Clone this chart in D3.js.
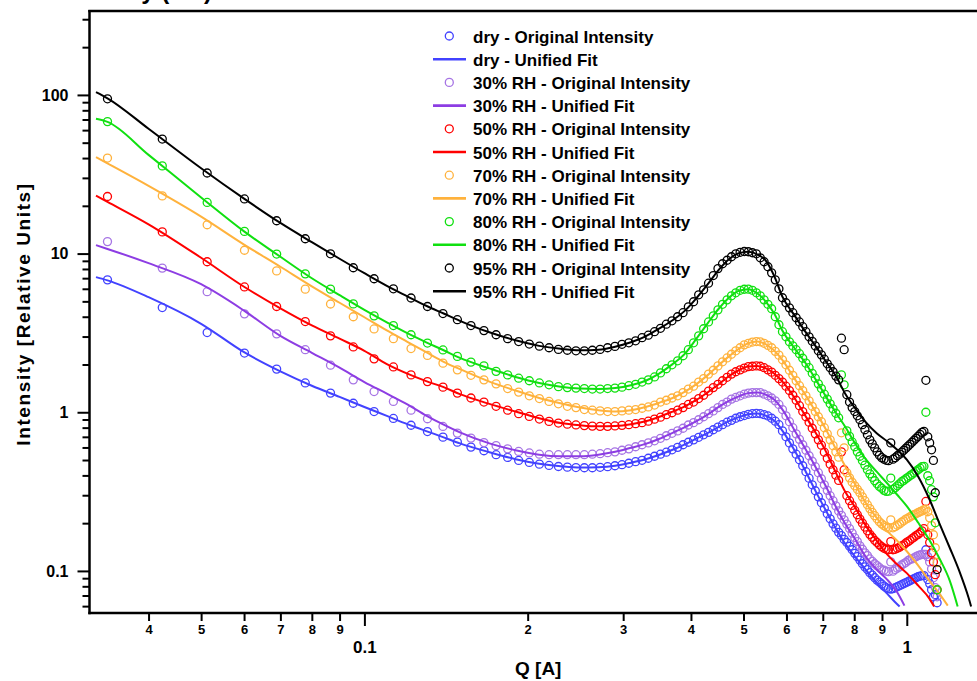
<!DOCTYPE html>
<html><head><meta charset="utf-8">
<script src="https://cdn.jsdelivr.net/npm/d3@7"></script>
<style>
html,body{margin:0;padding:0;background:#fff;}
svg{display:block;font-family:Arial,"Liberation Sans",sans-serif;}
</style></head><body>
<svg id="chart" width="977" height="681"></svg>
<script>
// ---------- DATA ----------
const qData = [0.0336,0.0424,0.0513,0.0601,0.0689,0.0778,0.0866,0.0954,0.1042,0.1131,
0.1219,0.1307,0.1396,0.1484,0.1572,0.1661,0.1749,0.1837,0.1925,0.2014,
0.2102,0.2190,0.2279,0.2367,0.2455,0.2544,0.2632,0.2720,0.2808,0.2897,
0.2985,0.3073,0.3162,0.3250,0.3338,0.3427,0.3515,0.3603,0.3691,0.3780,
0.3868,0.3956,0.4045,0.4133,0.4221,0.4310,0.4398,0.4486,0.4574,0.4663,
0.4751,0.4839,0.4928,0.5016,0.5104,0.5193,0.5281,0.5369,0.5457,0.5546,
0.5634,0.5722,0.5811,0.5899,0.5987,0.6076,0.6164,0.6252,0.6340,0.6429,
0.6517,0.6605,0.6694,0.6782,0.6870,0.6959,0.7047,0.7135,0.7223,0.7312,
0.7400,0.7488,0.7577,0.7665,0.7753,0.7842,0.7930,0.8018,0.8106,0.8195,
0.8283,0.8371,0.8460,0.8548,0.8636,0.8725,0.8813,0.8901,0.8989,0.9078,
0.9166,0.9254,0.9343,0.9431,0.9519,0.9608,0.9696,0.9784,0.9872,0.9961,
1.0049,1.0137,1.0226,1.0314,1.0402,1.0491,1.0579,1.0667,1.0755,1.0844,
1.0932,1.1020,1.1109,1.1197,1.1285,1.1374];

const dryData = [6.83,4.57,3.18,2.36,1.87,1.53,1.32,1.14,1.01,0.914,
0.828,0.756,0.697,0.648,0.603,0.572,0.540,0.519,0.497,0.483,
0.471,0.462,0.455,0.451,0.448,0.447,0.447,0.450,0.454,0.460,
0.467,0.477,0.488,0.498,0.513,0.528,0.544,0.560,0.580,0.601,
0.624,0.647,0.670,0.695,0.721,0.747,0.776,0.806,0.835,0.866,
0.889,0.917,0.937,0.953,0.971,0.979,0.983,0.979,0.965,0.948,
0.917,0.878,0.835,0.763,0.700,0.641,0.588,0.544,0.502,0.460,
0.422,0.384,0.349,0.320,0.293,0.269,0.248,0.229,0.213,0.198,
0.186,0.175,0.167,0.158,0.151,0.143,0.136,0.129,0.123,0.117,
0.111,0.106,0.102,0.0975,0.0941,0.0906,0.0875,0.0851,0.0827,0.0802,
0.0784,0.0773,0.0768,0.0773,0.0784,0.0795,0.0807,0.0819,0.0832,0.0844,
0.0855,0.0869,0.0882,0.0894,0.0906,0.0920,0.0927,0.0934,0.0934,0.136,
0.0882,0.0832,0.0761,0.0687,0.0708,0.0630];

const rh30Data = [11.9,8.10,5.75,4.17,3.12,2.48,1.98,1.60,1.35,1.17,
1.03,0.910,0.814,0.739,0.687,0.644,0.616,0.588,0.566,0.554,
0.544,0.540,0.540,0.540,0.540,0.540,0.544,0.548,0.556,0.563,
0.576,0.588,0.606,0.624,0.641,0.661,0.685,0.711,0.737,0.763,
0.793,0.831,0.860,0.897,0.937,0.979,1.02,1.07,1.12,1.16,
1.21,1.24,1.27,1.30,1.32,1.33,1.33,1.33,1.30,1.27,
1.23,1.18,1.12,1.04,0.950,0.872,0.799,0.731,0.675,0.624,
0.576,0.532,0.491,0.454,0.416,0.381,0.349,0.322,0.298,0.277,
0.257,0.239,0.224,0.210,0.197,0.185,0.173,0.162,0.153,0.144,
0.137,0.130,0.125,0.119,0.115,0.111,0.108,0.105,0.102,0.101,
0.0996,0.0989,0.114,0.0996,0.102,0.104,0.106,0.109,0.111,0.113,
0.116,0.118,0.119,0.121,0.123,0.125,0.126,0.127,0.127,0.127,
0.123,0.114,0.103,0.0906,0.0784,0.0687];

const rh50Data = [22.9,13.7,8.88,6.16,4.64,3.73,3.03,2.58,2.17,1.93,
1.72,1.56,1.44,1.32,1.23,1.16,1.09,1.03,0.979,0.941,
0.906,0.876,0.855,0.841,0.832,0.824,0.818,0.815,0.815,0.820,
0.827,0.835,0.847,0.860,0.878,0.905,0.931,0.965,0.993,1.03,
1.07,1.12,1.16,1.22,1.28,1.36,1.43,1.50,1.58,1.66,
1.74,1.80,1.85,1.90,1.94,1.95,1.96,1.95,1.91,1.85,
1.79,1.71,1.63,1.55,1.46,1.37,1.28,1.19,1.10,1.01,
0.937,0.866,0.793,0.731,0.670,0.620,0.560,0.513,0.471,0.434,
0.401,0.372,0.563,0.434,0.298,0.277,0.259,0.241,0.226,0.212,
0.200,0.189,0.179,0.170,0.163,0.156,0.151,0.146,0.142,0.139,
0.137,0.136,0.153,0.136,0.137,0.139,0.141,0.144,0.146,0.150,
0.153,0.156,0.160,0.163,0.167,0.170,0.174,0.179,0.185,0.274,
0.169,0.151,0.130,0.114,0.0947,0.0761];

const rh70Data = [40.0,23.1,15.2,10.5,7.78,5.97,4.81,4.00,3.35,2.91,
2.52,2.28,2.04,1.85,1.71,1.60,1.51,1.41,1.34,1.27,
1.22,1.17,1.13,1.09,1.07,1.04,1.03,1.02,1.01,1.01,
1.02,1.03,1.04,1.06,1.08,1.11,1.16,1.19,1.23,1.27,
1.33,1.40,1.46,1.55,1.63,1.74,1.84,1.96,2.08,2.20,
2.32,2.44,2.55,2.66,2.72,2.77,2.79,2.78,2.72,2.64,
2.55,2.42,2.29,2.14,1.99,1.84,1.71,1.58,1.47,1.37,
1.27,1.18,1.09,1.01,0.937,0.872,0.799,0.731,0.670,0.616,
0.563,0.521,0.742,0.597,0.416,0.386,0.362,0.344,0.327,0.311,
0.293,0.277,0.261,0.247,0.234,0.223,0.213,0.204,0.198,0.193,
0.189,0.186,0.210,0.187,0.190,0.194,0.198,0.203,0.207,0.212,
0.215,0.219,0.223,0.226,0.229,0.233,0.236,0.239,0.243,0.245,
0.236,0.216,0.193,0.169,0.140,0.113];

const rh80Data = [67.9,35.7,21.0,13.8,9.93,7.45,5.97,4.82,4.05,3.52,
3.08,2.73,2.47,2.25,2.07,1.96,1.81,1.72,1.64,1.58,
1.53,1.49,1.45,1.43,1.42,1.41,1.40,1.40,1.41,1.42,
1.44,1.47,1.50,1.55,1.60,1.67,1.77,1.88,1.99,2.11,
2.27,2.48,2.74,3.03,3.36,3.71,4.05,4.42,4.79,5.11,
5.42,5.66,5.87,5.96,5.97,5.87,5.66,5.42,5.11,4.79,
4.49,4.00,3.56,3.22,2.99,2.78,2.62,2.48,2.34,2.19,
2.04,1.91,1.76,1.64,1.51,1.41,1.30,1.21,1.13,1.05,
0.986,0.923,1.72,1.49,0.763,0.705,0.650,0.606,0.563,0.528,
0.495,0.464,0.434,0.409,0.389,0.370,0.354,0.341,0.332,0.322,
0.317,0.318,0.385,0.327,0.334,0.344,0.354,0.365,0.372,0.381,
0.389,0.398,0.406,0.416,0.425,0.434,0.444,0.454,0.456,1.00,
0.398,0.370,0.325,0.293,0.201,0.0761];

const rh95Data = [94.5,52.7,32.2,22.1,16.1,12.4,9.97,8.14,6.94,6.00,
5.25,4.64,4.19,3.83,3.52,3.27,3.08,2.91,2.79,2.69,
2.61,2.55,2.49,2.46,2.44,2.44,2.46,2.49,2.55,2.60,
2.68,2.74,2.82,2.95,3.06,3.22,3.38,3.59,3.77,4.00,
4.24,4.62,4.97,5.50,5.91,6.51,7.27,8.04,8.63,9.08,
9.55,9.97,10.19,10.31,10.27,10.12,9.97,9.41,8.88,8.26,
7.56,6.83,6.00,5.27,4.90,4.55,4.24,3.94,3.71,3.46,
3.22,2.99,2.80,2.62,2.44,2.30,2.16,2.02,1.91,1.80,
1.69,1.60,2.93,2.48,1.29,1.16,1.07,1.01,0.95,0.897,
0.835,0.776,0.721,0.670,0.632,0.597,0.563,0.536,0.517,0.506,
0.498,0.495,0.641,0.506,0.517,0.532,0.544,0.560,0.576,0.593,
0.611,0.628,0.647,0.666,0.685,0.705,0.726,0.747,0.758,1.59,
0.700,0.641,0.580,0.497,0.311,0.102];

// Unified fit curves
const fitQ = [0.032,0.0336,0.04,0.05,0.06,0.07,0.08,0.09,0.10,0.11,
0.12,0.13,0.14,0.15,0.17,0.19,0.21,0.23,0.25,0.27,
0.29,0.31,0.33,0.35,0.37,0.39,0.41,0.43,0.45,0.47,
0.49,0.51,0.53,0.55,0.57,0.59,0.62,0.65,0.68,0.71,
0.74,0.77,0.80,0.84,0.88,0.92];
const dryFitTailQ = [0.95,0.97];
const rh30FitTailQ = [0.96,0.99];
const rh50FitTailQ = [0.96,1.0,1.05,1.1,1.123];
const rh70FitTailQ = [0.96,1.0,1.05,1.1,1.15,1.19];
const rh80FitTailQ = [0.96,1.0,1.05,1.1,1.15,1.2,1.241];
const rh95FitTailQ = [0.96,1.0,1.05,1.1,1.15,1.2,1.25,1.3,1.314];

const dryFit = [7.11,6.78,5.31,3.61,2.39,1.81,1.47,1.25,1.08,0.948,
0.841,0.761,0.695,0.637,0.560,0.506,0.474,0.457,0.448,0.450,
0.460,0.481,0.506,0.540,0.580,0.628,0.685,0.742,0.810,0.878,
0.931,0.971,0.983,0.951,0.883,0.763,0.580,0.428,0.315,0.239,
0.185,0.148,0.125,0.102,0.0844,0.0719, 0.0640,0.0597];
const rh30Fit = [11.3,10.7,8.70,6.41,4.37,3.03,2.37,1.91,1.55,1.31,
1.12,0.953,0.835,0.747,0.637,0.576,0.540,0.528,0.528,0.540,
0.563,0.597,0.632,0.681,0.742,0.806,0.883,0.971,1.08,1.18,
1.26,1.32,1.33,1.29,1.20,1.04,0.776,0.588,0.447,0.339,
0.254,0.198,0.162,0.123,0.102,0.0882, 0.0733,0.0604];
const rh50Fit = [23.2,21.2,15.3,9.41,6.18,4.52,3.53,2.91,2.44,2.01,
1.75,1.57,1.44,1.30,1.13,1.01,0.917,0.855,0.828,0.815,
0.820,0.841,0.878,0.937,1.01,1.09,1.20,1.34,1.50,1.69,
1.84,1.94,1.96,1.89,1.75,1.56,1.24,0.951,0.737,0.563,
0.416,0.315,0.257,0.193,0.155,0.127, 0.110,0.0968,0.0807,0.0671,0.0597];
const rh70Fit = [40.5,37.0,26.7,17.1,11.4,8.26,6.22,4.90,3.97,3.28,
2.78,2.39,2.08,1.87,1.56,1.37,1.23,1.14,1.07,1.03,
1.01,1.03,1.08,1.15,1.23,1.35,1.51,1.72,1.98,2.25,
2.51,2.72,2.79,2.68,2.44,2.13,1.64,1.29,1.00,0.776,
0.588,0.457,0.359,0.269,0.216,0.179, 0.155,0.133,0.108,0.0869,0.0714,0.0604];
const rh80Fit = [70.7,67.6,41.9,22.6,13.8,9.55,6.99,5.47,4.42,3.69,
3.15,2.76,2.46,2.20,1.89,1.67,1.53,1.45,1.41,1.40,
1.42,1.48,1.58,1.76,2.01,2.34,2.93,3.66,4.49,5.27,
5.83,5.97,5.62,4.97,4.17,3.26,2.55,2.05,1.60,1.25,
0.993,0.810,0.650,0.506,0.422,0.357, 0.302,0.256,0.201,0.157,0.119,0.0869,0.0597];
const rh95Fit = [104.1,95.2,61.2,34.5,22.2,15.6,11.8,9.28,7.52,6.26,
5.38,4.69,4.19,3.77,3.19,2.84,2.62,2.51,2.46,2.48,
2.59,2.76,3.01,3.38,3.80,4.37,5.27,6.44,7.90,9.22,
10.04,10.26,9.90,9.00,7.19,5.34,4.11,3.22,2.59,2.08,
1.69,1.31,1.08,0.866,0.737,0.656, 0.580,0.502,0.392,0.285,0.197,0.140,0.0996,0.0677,0.0597];

const seriesNames = ["dry","30% RH","50% RH","70% RH","80% RH","95% RH"];
const markerColors = ["#4242ff","#a674e4","#ff0000","#ffb23c","#10e010","#000000"];
const lineColors   = ["#4242ff","#8d3de3","#ff0000","#ffb23c","#10e010","#000000"];

const yMajorTicks = [0.1,1,10,100];
const yMinorTicks = [0.06,0.07,0.08,0.09,0.2,0.3,0.4,0.5,0.6,0.7,0.8,0.9,2,3,4,5,6,7,8,9,20,30,40,50,60,70,80,90,200,300];
const xMajorTicks = [0.1,1];
const xMinorTicks = [0.04,0.05,0.06,0.07,0.08,0.09,0.2,0.3,0.4,0.5,0.6,0.7,0.8,0.9];

// ---------- CHART ----------
const dataSets = [dryData,rh30Data,rh50Data,rh70Data,rh80Data,rh95Data];
const fitSets = [dryFit,rh30Fit,rh50Fit,rh70Fit,rh80Fit,rh95Fit];
const fitTails = [dryFitTailQ,rh30FitTailQ,rh50FitTailQ,rh70FitTailQ,rh80FitTailQ,rh95FitTailQ];

const svg = d3.select("#chart");
svg.append("rect").attr("width",977).attr("height",681).attr("fill","#fff");

const L = 89.5, R = 1002.3, T = 11, B = 613;
const x = d3.scaleLog().domain([0.03113,1.5]).range([L,R]);
const y = d3.scaleLog().domain([0.0543,338]).range([B,T]);

// partially visible title (cut by the top edge, as in the reference)
svg.append("text").attr("x",212).attr("y",-1).attr("text-anchor","end")
  .attr("font-size",24).attr("font-weight","bold").text("Intensity (cm)");

const plot = svg.append("g");
const line = d3.line().x(d=>x(d[0])).y(d=>y(d[1])).curve(d3.curveMonotoneX);

dataSets.forEach((ds,s)=>{
  const g = plot.append("g");
  g.selectAll("circle").data(qData.map((q,i)=>[q,ds[i]])).enter().append("circle")
    .attr("cx",d=>x(d[0])).attr("cy",d=>y(d[1])).attr("r",4)
    .attr("fill","none").attr("stroke",markerColors[s]).attr("stroke-width",1.3);
  const fq = fitQ.concat(fitTails[s]);
  g.append("path").datum(fq.map((q,i)=>[q,fitSets[s][i]]))
    .attr("d",line).attr("fill","none").attr("stroke",lineColors[s]).attr("stroke-width",2);
});

// axes
const yMaj = svg.append("g").attr("transform",`translate(${L},0)`)
  .call(d3.axisLeft(y).tickValues(yMajorTicks).tickSize(12).tickPadding(9)
    .tickFormat(d=>d>=1?d3.format("d")(d):String(d)));
const yMin = svg.append("g").attr("transform",`translate(${L},0)`)
  .call(d3.axisLeft(y).tickValues(yMinorTicks).tickSize(7).tickFormat(""));
const xMaj = svg.append("g").attr("transform",`translate(0,${B})`)
  .call(d3.axisBottom(x).tickValues(xMajorTicks).tickSize(13).tickFormat(d=>d>=1?"1":"0.1"));
const xMin = svg.append("g").attr("transform",`translate(0,${B})`)
  .call(d3.axisBottom(x).tickValues(xMinorTicks).tickSize(8)
    .tickFormat(d=>String(Math.round(d/Math.pow(10,Math.floor(Math.log10(d)+1e-9))))));
[yMaj,yMin,xMaj,xMin].forEach(g=>{
  g.select(".domain").remove();
  g.selectAll(".tick line").attr("stroke","#000").attr("stroke-width",2);
  g.selectAll("text").attr("fill","#000").attr("font-family","Arial, 'Liberation Sans', sans-serif").attr("font-weight","bold");
});
yMaj.selectAll("text").attr("font-size",16);
xMaj.selectAll("text").attr("font-size",17).attr("y",40).attr("dy",0);
xMin.selectAll("text").attr("font-size",13).attr("y",21).attr("dy",0);

// frame lines
svg.append("line").attr("x1",L).attr("x2",L).attr("y1",T-1).attr("y2",B+1.2).attr("stroke","#000").attr("stroke-width",2.5);
svg.append("line").attr("x1",L-1.2).attr("x2",977).attr("y1",B).attr("y2",B).attr("stroke","#000").attr("stroke-width",2.5);
svg.append("line").attr("x1",L-1.2).attr("x2",977).attr("y1",T).attr("y2",T).attr("stroke","#000").attr("stroke-width",2.5);

// axis titles
svg.append("text").attr("x",515).attr("y",675).attr("font-size",19).attr("font-weight","bold").text("Q [A]");
svg.append("text").attr("transform","translate(30,314) rotate(-90)").attr("text-anchor","middle")
  .attr("font-size",19).attr("font-weight","bold").attr("letter-spacing",1.6).text("Intensity [Relative Units]");

// legend
const leg = svg.append("g");
seriesNames.forEach((n,s)=>{
  [0,1].forEach(k=>{
    const row = s*2+k;
    const by = 42.5 + 23.2*row;
    if(k===0){
      leg.append("circle").attr("cx",449.3).attr("cy",by-6.5).attr("r",4)
        .attr("fill","none").attr("stroke",markerColors[s]).attr("stroke-width",1.3);
    } else {
      leg.append("line").attr("x1",433).attr("x2",466).attr("y1",by-6.5).attr("y2",by-6.5)
        .attr("stroke",lineColors[s]).attr("stroke-width",2.6);
    }
    leg.append("text").attr("x",473).attr("y",by).attr("font-size",17).attr("font-weight","bold")
      .text(`${n} - ${k===0?"Original Intensity":"Unified Fit"}`);
  });
});
</script>
</body></html>
